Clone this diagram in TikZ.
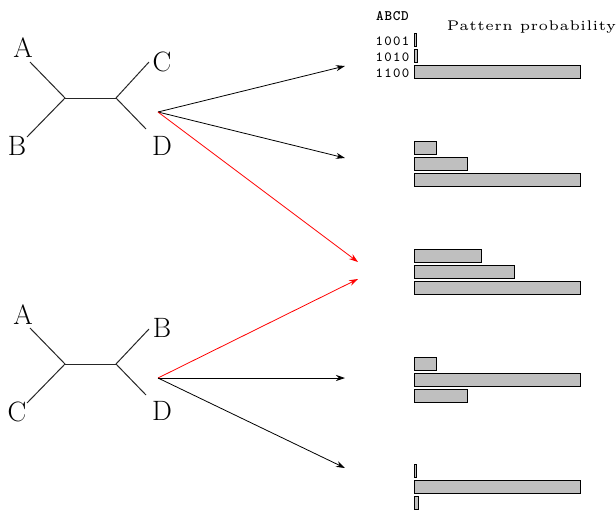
\documentclass[tikz,border=0pt]{standalone}
\usepackage{fontspec}
\newfontfamily\spacedrm{lmroman5-regular.otf}[LetterSpace=3]
\newfontfamily\spacedtt{lmmono8-regular.otf}[LetterSpace=9]
\newfontfamily\boldtt{lmmonolt10-bold.otf}[LetterSpace=5]
\usetikzlibrary{arrows.meta}
\begin{document}
\begin{tikzpicture}[x=1pt,y=-1pt,
  edge/.style={line width=1pt, black!85},
  arr/.style={-{Stealth[length=9pt,width=6pt]}, line width=0.8pt},
  redarr/.style={arr, red},
  bar/.style={draw=black, line width=0.7pt, fill=black!25},
  leaf/.style={font=\fontsize{28}{30}\selectfont, inner sep=0pt},
  code/.style={font=\spacedtt\fontsize{14}{16}\selectfont, inner sep=0pt}]
\useasboundingbox (0,0) rectangle (616,509);
% tree 1
\coordinate (t1l) at (65,98); \coordinate (t1r) at (116,98);
\coordinate (t1a) at (30,62); \coordinate (t1b) at (27,137);
\coordinate (t1c) at (149,62); \coordinate (t1d) at (146,129);
\node[leaf] (A1) at (23,48) {A};
\node[leaf] (B1) at (17,146) {B};
\node[leaf] (C1) at (162,62) {C};
\node[leaf] (D1) at (162,146) {D};
\draw[edge] (t1a) -- (t1l) -- (t1b);
\draw[edge] (t1l) -- (t1r);
\draw[edge] (t1c) -- (t1r) -- (t1d);
% tree 2
\coordinate (t2l) at (65,364); \coordinate (t2r) at (116,364);
\coordinate (t2a) at (30,328); \coordinate (t2c) at (27,403);
\coordinate (t2b) at (149,329); \coordinate (t2d) at (146,395);
\node[leaf] (A2) at (23,315) {A};
\node[leaf] (C2) at (17,412) {C};
\node[leaf] (B2) at (162,328) {B};
\node[leaf] (D2) at (162,411) {D};
\draw[edge] (t2a) -- (t2l) -- (t2c);
\draw[edge] (t2l) -- (t2r);
\draw[edge] (t2b) -- (t2r) -- (t2d);
% arrows
\coordinate (o1) at (158,112); \coordinate (o2) at (158,378);
\coordinate (p1) at (345,66); \coordinate (p2) at (345,158);
\coordinate (q1) at (358,262); \coordinate (q2) at (358,279);
\coordinate (p4) at (345,378); \coordinate (p5) at (345,468);
\draw[arr] (o1) -- (p1);
\draw[arr] (o1) -- (p2);
\draw[redarr] (o1) -- (q1);
\draw[redarr] (o2) -- (q2);
\draw[arr] (o2) -- (p4);
\draw[arr] (o2) -- (p5);
% labels
\node[inner sep=0pt, font=\boldtt\fontsize{14.5}{16}\selectfont] (hdr) at (392.5,16) {ABCD};
\node[code] (r1) at (392.5,41) {1001};
\node[code] (r2) at (392.5,57) {1010};
\node[code] (r3) at (392.5,73) {1100};
\node[inner sep=0pt, font=\spacedrm\fontsize{14}{16}\selectfont] (pp) at (531.5,27) {Pattern probability};
% bars
\foreach \y/\wa/\wb/\wc in {33/2/3/166, 141/22/53/166, 249/67/100/166, 357/22/166/53, 464/2/166/4}{
  \draw[bar] (414,\y) rectangle ++(\wa,13);
  \draw[bar] (414,\y+16) rectangle ++(\wb,13);
  \draw[bar] (414,\y+32) rectangle ++(\wc,13);
}
\end{tikzpicture}
\end{document}
